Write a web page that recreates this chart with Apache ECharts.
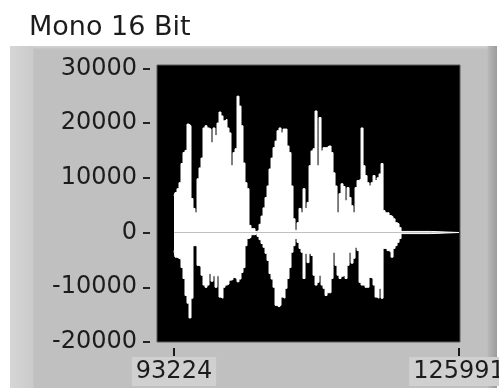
<!DOCTYPE html>
<html>
<head>
<meta charset="utf-8">
<script src="https://cdn.jsdelivr.net/npm/echarts@6/dist/echarts.min.js"></script>
<style>
  html, body { margin: 0; padding: 0; background: #ffffff; }
  #wrap { position: relative; width: 499px; height: 388px; overflow: hidden; }
  #frame {
    position: absolute; left: 10px; top: 46px; width: 487px; height: 342px;
    background:
      linear-gradient(to right, #d6d6d6 0px, #cbcbcb 23px, rgba(0,0,0,0) 24px),
      linear-gradient(to left, #9c9c9c 0px, #b4b4b4 8px, rgba(0,0,0,0) 10px),
      linear-gradient(to bottom, #d4d4d4 0px, #c4c4c4 3px, rgba(0,0,0,0) 4px),
      #c0c0c0;
  }
  #chart { position: absolute; left: 0; top: 0; width: 499px; height: 388px; }
</style>
</head>
<body>
<div id="wrap">
  <div id="frame"></div>
  <div id="chart"></div>
</div>
<script>
// Waveform: t0 / dt of the peak-detected record, one min/max pair per column
const t0 = 93224;
const dt = 230;
const recordEnd = 125991;

// Upper and lower peaks of each column
const upperPeaks = [
  6700, 7300, 8000, 9100, 12600, 14600, 15000, 19800, 19500, 6200,
  4400, 3600, 9800, 11800, 13600, 19100, 19500, 19100, 18900, 16400,
  19100, 17700, 20000, 22000, 21300, 20400, 20700, 19100, 18200, 12200,
  14600, 15300, 24900, 23100, 19500, 12700, 9100, 8000, 1300, 700,
  700, 200, 400, 1500, 3000, 4500, 6400, 8500, 11600, 13600,
  15500, 16700, 18600, 19100, 18200, 18900, 18900, 15800, 14600, 8500,
  2500, 400, 1800, 4400, 3600, 8000, 4400, 5500, 12200, 14900,
  15300, 22200, 12200, 21000, 14900, 15500, 15500, 15800, 15800, 14600,
  10900, 8500, 3600, 7100, 8900, 8400, 5800, 8200, 6400, 4900,
  3600, 8200, 9500, 9800, 19100, 12200, 10400, 9100, 8500, 9100,
  10400, 9500, 10000, 10700, 12600, 4000, 3600, 3600, 3100, 2900,
  2500, 1800, 1600, 900, 200
];
const lowerPeaks = [
  -3300, -4500, -4700, -4900, -6400, -8400, -11500, -12900, -15600, -12000,
  -2400, -2400, -6000, -6200, -7800, -9600, -10000, -9600, -7500, -8900,
  -7900, -10000, -7900, -11800, -12000, -10000, -9600, -9400, -8700, -8600,
  -8200, -8500, -9000, -8500, -7300, -6400, -2400, -1100, -900, -400,
  -400, -200, -700, -1300, -2000, -2700, -3800, -5100, -7500, -8500,
  -10000, -13300, -13600, -13300, -11800, -12000, -10200, -8400, -6400, -3600,
  -2400, -1100, -1800, -2900, -3600, -8400, -3800, -5500, -3800, -4200,
  -7800, -9600, -9100, -7800, -9600, -10200, -11500, -11000, -11000, -8400,
  -3600, -6000, -7800, -8400, -8000, -7800, -8400, -6000, -3600, -5600,
  -4700, -2700, -3300, -9100, -9600, -9600, -10000, -10000, -8200, -8400,
  -9600, -11800, -12000, -10200, -12000, -2900, -2900, -3300, -3600, -4500,
  -2900, -2400, -1800, -1100, -200
];

// Axis scales and tick labels
const xRange = [91270, 126106];
const xTicks = [93224, 125991];
const yRange = [-20000, 30600];
const yTicks = [-20000, -10000, 0, 10000, 20000, 30000];

const upperData = upperPeaks.map((v, i) => [t0 + i * dt, v]);
const lowerData = lowerPeaks.map((v, i) => [t0 + i * dt, v]);
// silent tail of the record
upperData.push([recordEnd, 0]);
lowerData.push([recordEnd, 0]);

const font = 'DejaVu Sans, Verdana, sans-serif';
const chart = echarts.init(document.getElementById('chart'), null, { renderer: 'canvas' });

const traceSeries = (data) => ({
  type: 'line',
  data: data,
  step: 'middle',
  showSymbol: false,
  symbol: 'none',
  animation: false,
  silent: true,
  lineStyle: { color: '#ffffff', width: 1 },
  areaStyle: { color: '#ffffff', opacity: 1 }
});

chart.setOption({
  animation: false,
  title: {
    text: 'Mono 16 Bit',
    left: 24,
    top: 9,
    textStyle: { fontFamily: font, fontSize: 27, fontWeight: 'normal', color: '#1c1c1c' }
  },
  grid: {
    left: 157, right: 39, top: 65, bottom: 46,
    containLabel: false,
    outerBoundsMode: 'none',
    show: true,
    backgroundColor: '#000000',
    borderColor: '#5a5a5a',
    borderWidth: 1
  },
  xAxis: {
    type: 'value',
    position: 'bottom',
    min: xRange[0],
    max: xRange[1],
    offset: 6,
    splitLine: { show: false },
    axisLine: { show: false, onZero: false },
    axisTick: { show: true, length: 8, inside: false, customValues: xTicks,
                lineStyle: { color: '#1a1a1a', width: 2 } },
    axisLabel: {
      customValues: xTicks,
      hideOverlap: false,
      fontFamily: font, fontSize: 24, color: '#1c1c1c',
      margin: 9,
      backgroundColor: '#d0d0d0',
      padding: [3, 4, 2, 4],
      formatter: (v) => String(v)
    }
  },
  yAxis: {
    type: 'value',
    min: yRange[0],
    max: yRange[1],
    offset: 7,
    splitLine: { show: false },
    axisLine: { show: false, onZero: false },
    axisTick: { show: true, length: 7, inside: false, customValues: yTicks,
                lineStyle: { color: '#222222', width: 2 } },
    axisLabel: {
      customValues: yTicks,
      fontFamily: font, fontSize: 24, color: '#1c1c1c',
      margin: 13,
      formatter: (v) => String(v)
    }
  },
  series: [traceSeries(upperData), traceSeries(lowerData)]
});
</script>
</body>
</html>
